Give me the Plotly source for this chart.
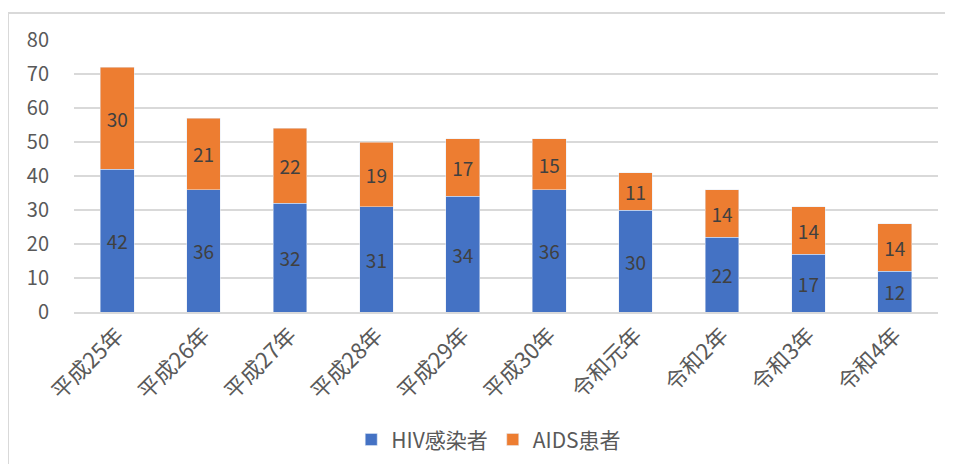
import plotly.graph_objects as go

categories = ["平成25年", "平成26年", "平成27年", "平成28年", "平成29年",
              "平成30年", "令和元年", "令和2年", "令和3年", "令和4年"]
hiv = [42, 36, 32, 31, 34, 36, 30, 22, 17, 12]
aids = [30, 21, 22, 19, 17, 15, 11, 14, 14, 14]
y_ticks = [0, 10, 20, 30, 40, 50, 60, 70, 80]

FONT = "Noto Sans CJK JP"
GRAY = "#595959"

fig = go.Figure()
fig.add_trace(go.Bar(
    x=categories, y=hiv, name="HIV感染者", marker_color="#4472C4",
    text=hiv, textposition="inside", insidetextanchor="middle",
    textfont=dict(family=FONT, size=19, color="#404040"),
    constraintext="none", cliponaxis=False,
))
fig.add_trace(go.Bar(
    x=categories, y=aids, name="AIDS患者", marker_color="#ED7D31",
    text=aids, textposition="inside", insidetextanchor="middle",
    textfont=dict(family=FONT, size=19, color="#404040"),
    constraintext="none", cliponaxis=False,
))

fig.update_layout(
    barmode="stack",
    bargap=0.61,
    width=953, height=464,
    margin=dict(l=66, r=23, t=32, b=160),
    paper_bgcolor="white", plot_bgcolor="white",
    font=dict(family=FONT, color=GRAY, size=19),
    showlegend=True,
    legend=dict(orientation="h", x=0.48, xanchor="center", y=-0.47, yanchor="middle",
                font=dict(family=FONT, size=21, color=GRAY), traceorder="normal",
                itemwidth=30),
    uniformtext=dict(mode=False),
)
fig.update_yaxes(
    range=[0, 80], tickvals=y_ticks, showgrid=True, gridcolor="#d9d9d9", gridwidth=1.5,
    zeroline=False, showline=False, ticks="", ticklabelstandoff=24, automargin=False,
    tickfont=dict(family=FONT, size=20, color=GRAY),
)
fig.update_xaxes(
    tickangle=-45, showline=True, linecolor="#d9d9d9", linewidth=1.5, ticks="",
    automargin=False,
    tickfont=dict(family=FONT, size=22, color=GRAY),
)
fig.add_shape(type="rect", xref="paper", yref="paper",
              x0=-0.0764, x1=1.2, y0=-0.7, y1=1.099,
              line=dict(color="#d9d9d9", width=2), layer="below")

fig.write_html("out.html")
